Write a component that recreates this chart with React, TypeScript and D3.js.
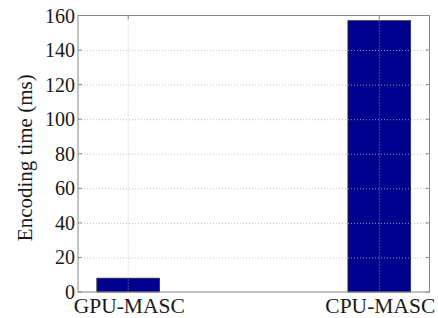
import React, { useEffect, useRef } from "react"
import * as d3 from "d3"

const categories = ["GPU-MASC", "CPU-MASC"]
const encodingTime = [8, 157]
const yTicks = [0, 20, 40, 60, 80, 100, 120, 140, 160]
const yLabel = "Encoding time (ms)"

const FONT = "'Liberation Serif', 'Times New Roman', 'DejaVu Serif', serif"

export default function App() {
  const ref = useRef<SVGSVGElement>(null)

  useEffect(() => {
    const width = 438
    const height = 318
    const margin = { top: 15.5, right: 8.5, bottom: 26, left: 78 }
    const w = width - margin.left - margin.right
    const h = height - margin.top - margin.bottom

    const svg = d3.select(ref.current)
    svg.selectAll("*").remove()

    // Scales
    const xScale = d3.scaleLinear().domain([0.8, 2.2]).range([0, w])
    const yScale = d3.scaleLinear().domain([0, 160]).range([h, 0])
    const barW = xScale(1.25) - xScale(1)

    const g = svg
      .append("g")
      .attr("transform", `translate(${margin.left}, ${margin.top})`)

    // Bars
    g.selectAll("rect.bar")
      .data(encodingTime)
      .enter()
      .append("rect")
      .attr("class", "bar")
      .attr("x", (d, i) => xScale(i + 1) - barW / 2)
      .attr("y", d => yScale(d))
      .attr("width", barW)
      .attr("height", d => h - yScale(d))
      .attr("fill", "#00008F")
      .attr("stroke", "#333")
      .attr("stroke-width", 0.8)

    // Grid (drawn on top, dotted)
    const grid = g.append("g").attr("stroke", "#b8b8b8").attr("stroke-width", 0.8)
      .attr("stroke-dasharray", "1,2")
    grid.selectAll("line.h")
      .data(yTicks.filter(t => t > 0 && t < 160))
      .enter()
      .append("line")
      .attr("x1", 0)
      .attr("x2", w)
      .attr("y1", d => yScale(d) + 0.5)
      .attr("y2", d => yScale(d) + 0.5)
    grid.selectAll("line.v")
      .data(categories)
      .enter()
      .append("line")
      .attr("x1", (d, i) => xScale(i + 1))
      .attr("x2", (d, i) => xScale(i + 1))
      .attr("y1", 0)
      .attr("y2", h)

    // Box
    g.append("rect")
      .attr("x", 0)
      .attr("y", 0)
      .attr("width", w)
      .attr("height", h)
      .attr("fill", "none")
      .attr("stroke", "#888")
      .attr("stroke-width", 1)

    // Ticks inward
    const ticks = g.append("g").attr("stroke", "#888").attr("stroke-width", 1)
    yTicks.forEach(t => {
      ticks.append("line").attr("x1", 0).attr("x2", 4).attr("y1", yScale(t)).attr("y2", yScale(t))
      ticks.append("line").attr("x1", w - 4).attr("x2", w).attr("y1", yScale(t)).attr("y2", yScale(t))
    })
    categories.forEach((c, i) => {
      ticks.append("line").attr("x1", xScale(i + 1)).attr("x2", xScale(i + 1)).attr("y1", 0).attr("y2", 4)
    })

    // Tick labels
    g.selectAll("text.ytick")
      .data(yTicks)
      .enter()
      .append("text")
      .attr("x", -3)
      .attr("y", d => yScale(d))
      .attr("dy", "0.35em")
      .attr("text-anchor", "end")
      .style("font-family", FONT)
      .attr("font-size", 20)
      .attr("fill", "#1a1a1a")
      .text(d => d)

    g.selectAll("text.xtick")
      .data(categories)
      .enter()
      .append("text")
      .attr("x", (d, i) => xScale(i + 1) + 1)
      .attr("y", h + 21)
      .attr("text-anchor", "middle")
      .style("font-family", FONT)
      .attr("font-size", 21.5)
      .attr("fill", "#1a1a1a")
      .text(d => d)

    // Y label
    svg.append("text")
      .attr("transform", `translate(32, ${margin.top + h / 2 + 4}) rotate(-90)`)
      .attr("text-anchor", "middle")
      .style("font-family", FONT)
      .attr("font-size", 21)
      .attr("fill", "#1a1a1a")
      .text(yLabel)
  }, [])

  return (
    <svg
      ref={ref}
      width={438}
      height={318}
      style={{ position: "absolute", left: 0, top: 0, background: "#fff" }}
    />
  )
}
